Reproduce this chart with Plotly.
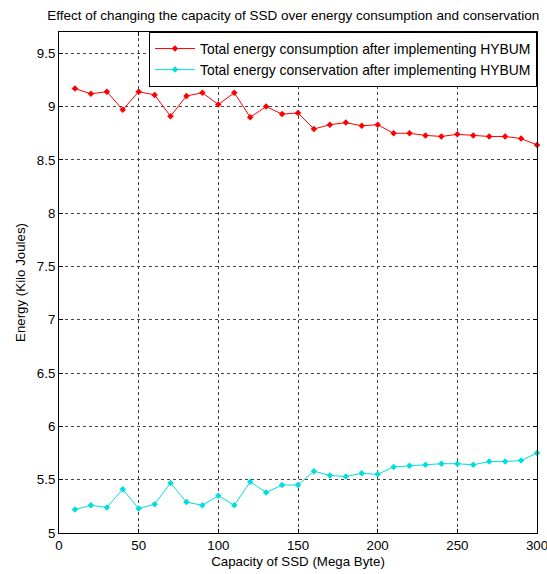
import plotly.graph_objects as go

capacity = [10, 20, 30, 40, 50, 60, 70, 80, 90, 100, 110, 120, 130, 140, 150,
            160, 170, 180, 190, 200, 210, 220, 230, 240, 250, 260, 270, 280, 290, 300]
consumption = [9.17, 9.12, 9.14, 8.97, 9.14, 9.11, 8.91, 9.10, 9.13, 9.02, 9.13, 8.90, 9.00, 8.93, 8.94,
               8.79, 8.83, 8.85, 8.82, 8.83, 8.75, 8.75, 8.73, 8.72, 8.74, 8.73, 8.72, 8.72, 8.70, 8.64]
conservation = [5.22, 5.26, 5.24, 5.41, 5.23, 5.27, 5.47, 5.29, 5.26, 5.35, 5.26, 5.48, 5.38, 5.45, 5.45,
                5.58, 5.54, 5.53, 5.56, 5.55, 5.62, 5.63, 5.64, 5.65, 5.65, 5.64, 5.67, 5.67, 5.68, 5.75]
x_ticks = [0, 50, 100, 150, 200, 250, 300]
y_ticks = [5, 5.5, 6, 6.5, 7, 7.5, 8, 8.5, 9, 9.5]

font = "Arial, Liberation Sans, sans-serif"
fs = 13.3
fs_big = 13.9

fig = go.Figure()
fig.add_trace(go.Scatter(
    x=capacity, y=consumption, mode="lines+markers",
    name="Total energy consumption after implementing HYBUM",
    line=dict(color="#ff0000", width=1),
    marker=dict(symbol="diamond", size=5, color="#ff0000"),
    cliponaxis=False,
))
fig.add_trace(go.Scatter(
    x=capacity, y=conservation, mode="lines+markers",
    name="Total energy conservation after implementing HYBUM",
    line=dict(color="#00dede", width=1),
    marker=dict(symbol="diamond", size=5, color="#00dede"),
    cliponaxis=False,
))

axis_common = dict(
    showline=True, linecolor="black", linewidth=1, mirror="ticks",
    ticks="inside", ticklen=4, tickcolor="black",
    showgrid=True, gridcolor="#444444", griddash="3px,3px", gridwidth=1,
    zeroline=False, automargin=False, ticklabeloverflow="allow",
    tickfont=dict(family=font, size=fs, color="black"),
)

fig.update_layout(
    width=547, height=574,
    paper_bgcolor="white", plot_bgcolor="white",
    margin=dict(l=59, r=10, t=32, b=41),
    title=dict(
        text="Effect of changing the capacity of SSD over energy consumption and conservation",
        font=dict(family=font, size=13.5, color="black"),
        x=0.536, xanchor="center", y=0.982, yanchor="top",
    ),
    xaxis=dict(range=[0, 300], tickvals=x_ticks,
               title=dict(text="Capacity of SSD (Mega Byte)", font=dict(family=font, size=fs, color="black"), standoff=4),
               **axis_common),
    yaxis=dict(range=[5, 9.7], tickvals=y_ticks,
               title=dict(text="Energy (Kilo Joules)", font=dict(family=font, size=fs, color="black"), standoff=8),
               **axis_common),
    legend=dict(
        x=1, y=1, xanchor="right", yanchor="top",
        bgcolor="white", bordercolor="black", borderwidth=1,
        font=dict(family=font, size=fs_big, color="black"),
        itemwidth=40, tracegroupgap=0,
    ),
    showlegend=True,
)

fig.write_html("out.html", config={"displayModeBar": False},
               post_script="document.body.style.margin='0';")
